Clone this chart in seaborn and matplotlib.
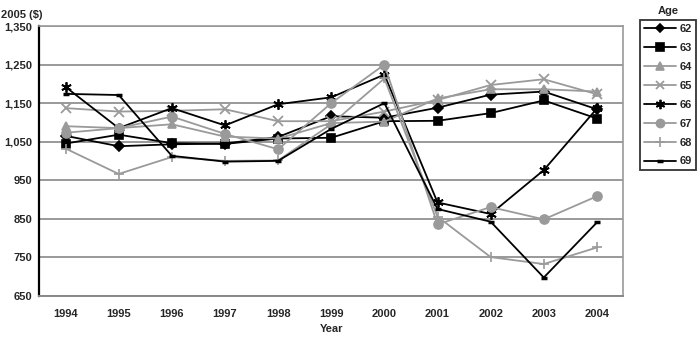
import matplotlib
matplotlib.use("Agg")
import matplotlib.pyplot as plt
from matplotlib.lines import Line2D
import seaborn as sns
import pandas as pd
import numpy as np

years = ["1994", "1995", "1996", "1997", "1998", "1999", "2000", "2001", "2002", "2003", "2004"]
ages = ["62", "63", "64", "65", "66", "67", "68", "69"]
age62 = [1065, 1038, 1043, 1045, 1062, 1116, 1112, 1138, 1172, 1180, 1134]
age63 = [1045, 1068, 1046, 1044, 1058, 1060, 1103, 1104, 1124, 1157, 1110]
age64 = [1090, 1085, 1095, 1063, 1058, 1098, 1102, 1162, 1186, 1186, 1180]
age65 = [1137, 1128, 1130, 1134, 1103, 1103, 1128, 1158, 1197, 1212, 1173]
age66 = [1192, 1085, 1137, 1092, 1147, 1165, 1224, 892, 862, 976, 1136]
age67 = [1073, 1085, 1115, 1070, 1030, 1150, 1250, 835, 880, 848, 908]
age68 = [1032, 966, 1010, 1000, 1001, 1095, 1214, 855, 750, 732, 775]
age69 = [1174, 1171, 1013, 998, 1000, 1083, 1150, 875, 842, 697, 840]
yticks = [650, 750, 850, 950, 1050, 1150, 1250, 1350]

series = [age62, age63, age64, age65, age66, age67, age68, age69]
rows = []
for a, vals in zip(ages, series):
    for i, (yr, v) in enumerate(zip(years, vals)):
        rows.append({"age": a, "idx": i, "year": yr, "value": v})
df = pd.DataFrame(rows)

BLACK = "#000000"
GRAY = "#9a9a9a"
styles = {
    "62": dict(color=BLACK, marker="D", ms=4.6, mew=1.2),
    "63": dict(color=BLACK, marker="s", ms=5.8, mew=1.2),
    "64": dict(color=GRAY, marker="^", ms=6.2, mew=1.2),
    "65": dict(color=GRAY, marker="x", ms=6.5, mew=1.3),
    "66": dict(color=BLACK, marker=(6, 2, 0), ms=7.5, mew=1.3),
    "67": dict(color=GRAY, marker="o", ms=6.5, mew=1.2),
    "68": dict(color=GRAY, marker="+", ms=7.5, mew=1.2),
    "69": dict(color=BLACK, marker="_", ms=4.5, mew=2.5),
}

sns.set_theme(style="white")
plt.rcParams["font.family"] = ["Liberation Sans", "DejaVu Sans"]
plt.rcParams["font.weight"] = "bold"

fig = plt.figure(figsize=(7.0, 3.39), dpi=100)
ax = fig.add_axes([0.0557, 0.128, 0.835, 0.795])

for a in ages:
    st = styles[a]
    sub = df[df["age"] == a]
    sns.lineplot(data=sub, x="idx", y="value", ax=ax, color=st["color"],
                 marker=st["marker"], markersize=st["ms"], linewidth=1.3,
                 markeredgecolor=st["color"], markerfacecolor=st["color"],
                 markeredgewidth=st["mew"], legend=False, zorder=3)

ax.set_xlim(-0.5, len(years) - 0.5)
ax.set_ylim(650, 1350)
ax.set_yticks(yticks)
ax.set_yticklabels([f"{v:,}" for v in yticks], fontsize=8, fontweight="bold")
ax.yaxis.grid(True, color="#999999", linewidth=1.4)
ax.set_axisbelow(True)

ax.set_xticks(range(len(years)))
ax.set_xticklabels(years, fontsize=8, fontweight="bold")
ax.set_xticks(np.arange(-0.5, len(years)), minor=True)
ax.tick_params(axis="x", which="major", length=0, pad=10)
ax.tick_params(axis="x", which="minor", length=4, width=1.2, color="black", direction="out")
ax.tick_params(axis="y", which="major", length=3, width=1.2, color="black", direction="out", pad=2)

for s in ["top", "right"]:
    ax.spines[s].set_color("#999999")
    ax.spines[s].set_linewidth(1.2)
ax.spines["left"].set_color("black")
ax.spines["left"].set_linewidth(1.6)
ax.spines["bottom"].set_color("#888888")
ax.spines["bottom"].set_linewidth(1.4)

ax.set_xlabel("")
ax.set_ylabel("")
fig.text(0.002, 0.955, "2005 ($)", fontsize=8, fontweight="bold", ha="left", va="center")
fig.text(0.474, 0.03, "Year", fontsize=8, fontweight="bold", ha="center", va="center")

handles = [Line2D([0], [0], color=styles[a]["color"], marker=styles[a]["marker"],
                  markersize=styles[a]["ms"] * 0.9, linewidth=1.3,
                  markeredgecolor=styles[a]["color"], markerfacecolor=styles[a]["color"],
                  markeredgewidth=styles[a]["mew"]) for a in ages]
leg = fig.legend(handles, ages, loc="upper left", bbox_to_anchor=(0.914, 0.94),
                 frameon=True, fancybox=False, fontsize=8, handlelength=2.9,
                 handletextpad=0.3, labelspacing=0.8, borderpad=0.35, borderaxespad=0)
leg.get_frame().set_edgecolor("black")
leg.get_frame().set_linewidth(1.3)
for t in leg.get_texts():
    t.set_fontweight("bold")
fig.text(0.955, 0.968, "Age", fontsize=8, fontweight="bold", ha="center", va="center")

fig.savefig("out.png", dpi=100)
